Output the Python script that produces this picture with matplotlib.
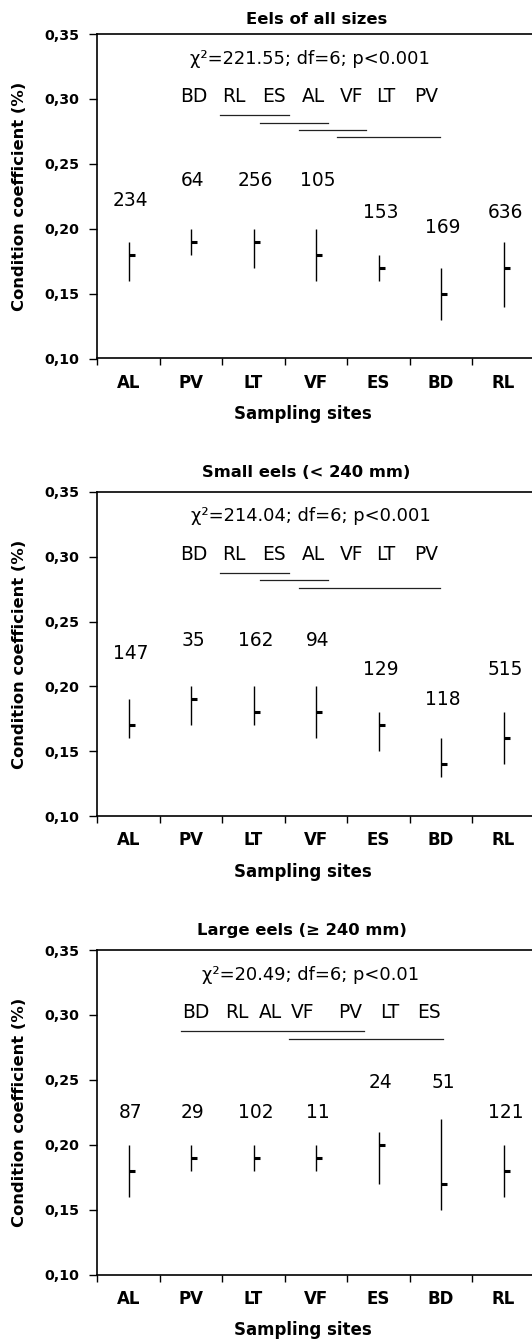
"""
Condition coefficient of eels per sampling site, three size classes.
Median (short tick) and range (vertical line), n above each site,
Kruskal-Wallis result and homogeneous groups written inside the plot.
"""
import matplotlib
matplotlib.use("Agg")
import matplotlib.pyplot as plt
from matplotlib.ticker import FuncFormatter

plt.rcParams["font.family"] = ["DejaVu Sans"]

SITES = ["AL", "PV", "LT", "VF", "ES", "BD", "RL"]

# --- eels of all sizes ---
all_mean = [0.18, 0.19, 0.19, 0.18, 0.17, 0.15, 0.17]
all_lo = [0.16, 0.18, 0.17, 0.16, 0.16, 0.13, 0.14]
all_hi = [0.19, 0.20, 0.20, 0.20, 0.18, 0.17, 0.19]
all_n = [234, 64, 256, 105, 153, 169, 636]
all_stat = "\u03c7\u00b2=221.55; df=6; p<0.001"
all_rank = ["BD", "RL", "ES", "AL", "VF", "LT", "PV"]
all_groups = [(1, 2), (2, 3), (3, 4), (4, 6)]

# --- small eels ---
small_mean = [0.17, 0.19, 0.18, 0.18, 0.17, 0.14, 0.16]
small_lo = [0.16, 0.17, 0.17, 0.16, 0.15, 0.13, 0.14]
small_hi = [0.19, 0.20, 0.20, 0.20, 0.18, 0.16, 0.18]
small_n = [147, 35, 162, 94, 129, 118, 515]
small_stat = "\u03c7\u00b2=214.04; df=6; p<0.001"
small_rank = ["BD", "RL", "ES", "AL", "VF", "LT", "PV"]
small_groups = [(1, 2), (2, 3), (3, 6)]

# --- large eels ---
large_mean = [0.18, 0.19, 0.19, 0.19, 0.20, 0.17, 0.18]
large_lo = [0.16, 0.18, 0.18, 0.18, 0.17, 0.15, 0.16]
large_hi = [0.20, 0.20, 0.20, 0.20, 0.21, 0.22, 0.20]
large_n = [87, 29, 102, 11, 24, 51, 121]
large_stat = "\u03c7\u00b2=20.49; df=6; p<0.01"
large_rank = ["BD", "RL", "AL", "VF", "PV", "LT", "ES"]
large_groups = [(0, 4), (3, 6)]

# layout only (where the little texts sit inside each panel)
RANK_X_A = [2.04, 2.69, 3.33, 3.96, 4.57, 5.12, 5.76]
RANK_X_B = [2.07, 2.74, 3.27, 3.79, 4.54, 5.18, 5.80]
NY_ALL = [0.222, 0.237, 0.237, 0.237, 0.2125, 0.201, 0.2125]
NY_SMALL = [0.225, 0.235, 0.235, 0.235, 0.213, 0.19, 0.213]
NY_LARGE = [0.225, 0.225, 0.225, 0.225, 0.248, 0.248, 0.225]

W, H = 532, 1342
LEFT_PX, AX_W_PX = 97.3, 437.5
PANEL_TOPS = [34, 491.7, 950]
TITLE_GAP = [14.5, 19.5, 19.0]
TITLE_X_PX = [317, 306, 302]
XLABEL_X_PX = 303
AX_H_PX = 324.5


def panel(fig, k, title, mean, lo, hi, n, ny, stat, rank, rank_x, groups):
    top_px = PANEL_TOPS[k]
    ax = fig.add_axes([LEFT_PX / W, 1 - (top_px + AX_H_PX) / H,
                       AX_W_PX / W, AX_H_PX / H])
    x = list(range(1, len(SITES) + 1))

    ax.vlines(x, lo, hi, color="black", lw=1.0)
    ax.hlines(mean, x, [v + 0.1 for v in x], color="black", lw=2.2)
    for xi, yi, ni in zip(x, ny, n):
        ax.text(xi + 0.03, yi, str(ni), ha="center", va="center", fontsize=13.4)

    ax.text(3.91, 0.331, stat, ha="center", va="center", fontsize=12.9)
    for name, rx in zip(rank, rank_x):
        ax.text(rx, 0.302, name, ha="center", va="center", fontsize=13.4)
    for g, (i, j) in enumerate(groups):
        yl = 0.2875 - 0.0057 * g
        ax.plot([rank_x[i] - 0.23, rank_x[j] + 0.23], [yl, yl],
                color="#222222", lw=0.9)

    ax.set_xlim(0.5, 7.5)
    ax.set_ylim(0.10, 0.35)
    ax.set_yticks([0.10, 0.15, 0.20, 0.25, 0.30, 0.35])
    ax.yaxis.set_major_formatter(FuncFormatter(lambda v, _: f"{v:.2f}".replace(".", ",")))
    ax.set_xticks(x)
    ax.set_xticklabels(SITES)
    ax.set_xticks([v + 0.5 for v in range(len(SITES) + 1)], minor=True)
    ax.tick_params(axis="x", which="major", length=0, pad=11, labelsize=12)
    ax.tick_params(axis="x", which="minor", length=5, width=1.0, direction="out")
    ax.tick_params(axis="y", length=5.5, width=1.0, pad=7.5, labelsize=10.2)
    for lab in ax.get_xticklabels() + ax.get_yticklabels():
        lab.set_fontweight("bold")

    ax.spines["right"].set_visible(False)
    for s in ("left", "bottom", "top"):
        ax.spines[s].set_linewidth(1.2)

    ax.set_xlabel("Sampling sites", fontsize=12, fontweight="bold")
    ax.xaxis.set_label_coords((XLABEL_X_PX - LEFT_PX) / AX_W_PX, -55.5 / AX_H_PX)
    ax.xaxis.label.set_va("center")
    ax.set_ylabel("Condition coefficient (%)", fontsize=11.8, fontweight="bold",
                  va="center")
    ax.yaxis.set_label_coords(-(LEFT_PX - 19) / AX_W_PX, 0.5)
    ax.text((TITLE_X_PX[k] - LEFT_PX) / AX_W_PX, 1 + TITLE_GAP[k] / AX_H_PX, title,
            transform=ax.transAxes, ha="center", va="center", fontsize=11.8,
            fontweight="bold")
    return ax


fig = plt.figure(figsize=(W / 100, H / 100), dpi=100)
panel(fig, 0, "Eels of all sizes", all_mean, all_lo, all_hi, all_n, NY_ALL,
      all_stat, all_rank, RANK_X_A, all_groups)
panel(fig, 1, "Small eels (< 240 mm)", small_mean, small_lo, small_hi, small_n,
      NY_SMALL, small_stat, small_rank, RANK_X_A, small_groups)
panel(fig, 2, "Large eels (\u2265 240 mm)", large_mean, large_lo, large_hi, large_n,
      NY_LARGE, large_stat, large_rank, RANK_X_B, large_groups)
fig.savefig("out.png", dpi=100)
